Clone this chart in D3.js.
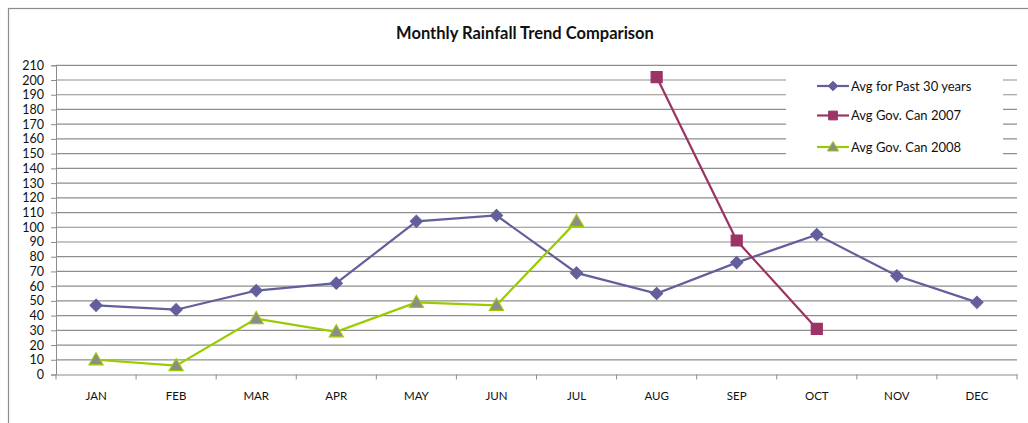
<!DOCTYPE html>
<html><head><meta charset="utf-8">
<script src="https://cdn.jsdelivr.net/npm/d3@7"></script>
<style>body{margin:0;background:#fff}svg{display:block}text{font-family:Lato,"Open Sans",sans-serif}</style>
</head><body><svg id="c" width="1028" height="423"></svg>
<script>
const months = ["JAN","FEB","MAR","APR","MAY","JUN","JUL","AUG","SEP","OCT","NOV","DEC"];
const avg30 = [47,44,57,62,104,108,69,55,76,95,67,49];
const gov2007 = [null,null,null,null,null,null,null,202,91,31,null,null];
const gov2008 = [10,6,38,29,49,47,104,null,null,null,null,null];
const yTicks = d3.range(0,211,10);
const seriesNames = ["Avg for Past 30 years","Avg Gov. Can 2007","Avg Gov. Can 2008"];

const FONT = "Lato,'Open Sans',sans-serif";
const svg = d3.select("#c");
const L=56, R=1017, T=65.3, B=374.5;
const x = d3.scaleBand().domain(months).range([L,R]);
const y = d3.scaleLinear().domain([0,210]).range([B,T]);

// outer border
svg.append("rect").attr("x",8.5).attr("y",8.5).attr("width",1040).attr("height",440)
  .attr("fill","none").attr("stroke","#8c8c8c").attr("stroke-width",1.2);

svg.append("text").attr("x",525).attr("y",39).attr("text-anchor","middle")
  .attr("font-size",16.5).attr("font-weight","bold").attr("fill","#111").text("Monthly Rainfall Trend Comparison");

// gridlines
svg.append("g").selectAll("line").data(yTicks.filter(d=>d>0)).join("line")
  .attr("x1",L).attr("x2",R).attr("y1",d=>y(d)).attr("y2",d=>y(d))
  .attr("stroke","#8e8e8e").attr("stroke-width",1.2);

// y axis
const ya = svg.append("g").attr("transform",`translate(${L},0)`)
  .call(d3.axisLeft(y).tickValues(yTicks).tickSize(5).tickPadding(7));
ya.select(".domain").attr("stroke","#8c8c8c");
ya.selectAll("line").attr("stroke","#8c8c8c");
ya.selectAll("text").attr("font-size",12.5).attr("fill","#111").attr("font-family",FONT);

// x axis
const xa = svg.append("g").attr("transform",`translate(0,${B})`)
  .call(d3.axisBottom(x).tickSize(0).tickPadding(17));
xa.select(".domain").attr("stroke","#8c8c8c").attr("stroke-width",1.2);
xa.selectAll("text").attr("font-size",11.5).attr("fill","#111").attr("font-family",FONT);
svg.append("g").selectAll("line").data(d3.range(months.length+1)).join("line")
  .attr("x1",i=>L+i*x.step()).attr("x2",i=>L+i*x.step()).attr("y1",B).attr("y2",B+5)
  .attr("stroke","#8c8c8c");

const cx = i=>x(months[i])+x.bandwidth()/2;
const lineGen = d3.line().defined(d=>d.v!=null).x(d=>cx(d.i)).y(d=>y(d.v));
const toPts = arr=>arr.map((v,i)=>({v,i}));

const cfg = [
  {data:avg30, color:"#625f9c", marker:"diamond", fill:"#625f9c", mstroke:"#625f9c"},
  {data:gov2007, color:"#9b3465", marker:"square", fill:"#9b3465", mstroke:"#9b3465"},
  {data:gov2008, color:"#99cc00", marker:"triangle", fill:"#8c8c8c", mstroke:"#99cc00"}
];
function markerPath(type){
  if(type==="diamond") return "M0,-6L6,0L0,6L-6,0Z";
  if(type==="square") return "M-5.5,-5.5H5.5V5.5H-5.5Z";
  return "M0,-7L7,5L-7,5Z";
}

// legend background
svg.append("rect").attr("x",786).attr("y",67).attr("width",217).attr("height",100).attr("fill","#fff");

cfg.forEach(c=>{
  svg.append("path").datum(toPts(c.data)).attr("d",lineGen).attr("fill","none")
    .attr("stroke",c.color).attr("stroke-width",2.2);
});
cfg.forEach(c=>{
  svg.append("g").selectAll("path").data(toPts(c.data).filter(d=>d.v!=null)).join("path")
    .attr("d",markerPath(c.marker)).attr("transform",d=>`translate(${cx(d.i)},${y(d.v)})`)
    .attr("fill",c.fill).attr("stroke",c.mstroke).attr("stroke-width",1.2);
});

// legend
const ly=[86,115.5,147];
cfg.forEach((c,k)=>{
  const g = svg.append("g").attr("transform",`translate(0,${ly[k]})`);
  g.append("line").attr("x1",817).attr("x2",849).attr("stroke",c.color).attr("stroke-width",2.2);
  g.append("path").attr("d",markerPath(c.marker)).attr("transform","translate(833,0) scale(0.8)")
    .attr("fill",c.fill).attr("stroke",c.mstroke).attr("stroke-width",1.2);
  g.append("text").attr("x",851).attr("y",4.5).attr("font-size",13).attr("fill","#111").text(seriesNames[k]);
});
</script></body></html>
